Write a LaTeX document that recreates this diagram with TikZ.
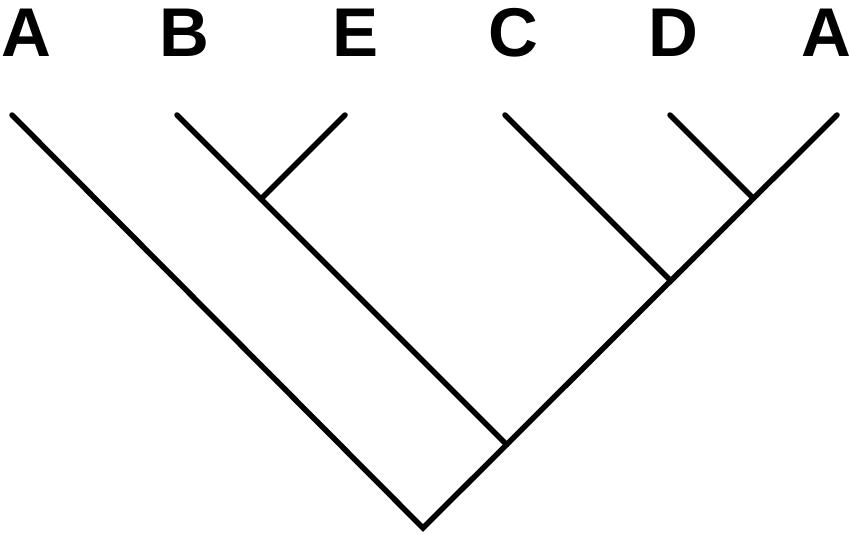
\documentclass[tikz,border=0pt]{standalone}
\usepackage{fontspec}
\setmainfont{Liberation Sans}
\begin{document}
\begin{tikzpicture}[x=1pt,y=-1pt,
  taxon/.style={font=\fontsize{69}{69}\selectfont\bfseries, anchor=base, inner sep=0pt},
  branch/.style={line width=5.5pt, line cap=round}]
\useasboundingbox (0,0) rectangle (850,533);
\node[taxon] (tA1) at (26,56) {A};
\node[taxon] (tB) at (184,56) {B};
\node[taxon] (tE) at (356,56) {E};
\node[taxon] (tC) at (513,56) {C};
\node[taxon] (tD) at (673,56) {D};
\node[taxon] (tA2) at (826,56) {A};
\coordinate (lA1) at (12,115);
\coordinate (lB) at (177,115);
\coordinate (lE) at (345,115);
\coordinate (lC) at (505,115);
\coordinate (lD) at (670,115);
\coordinate (lA2) at (837,115);
\coordinate (root) at (423,528);
\coordinate (jB) at (506.5,444.5);
\coordinate (jE) at (261,199);
\coordinate (jC) at (670.5,280.5);
\coordinate (jD) at (753,198);
\draw[branch] (lA1) -- (root) -- (lA2);
\draw[branch] (lB) -- (jB);
\draw[branch] (lE) -- (jE);
\draw[branch] (lC) -- (jC);
\draw[branch] (lD) -- (jD);
\end{tikzpicture}
\end{document}
